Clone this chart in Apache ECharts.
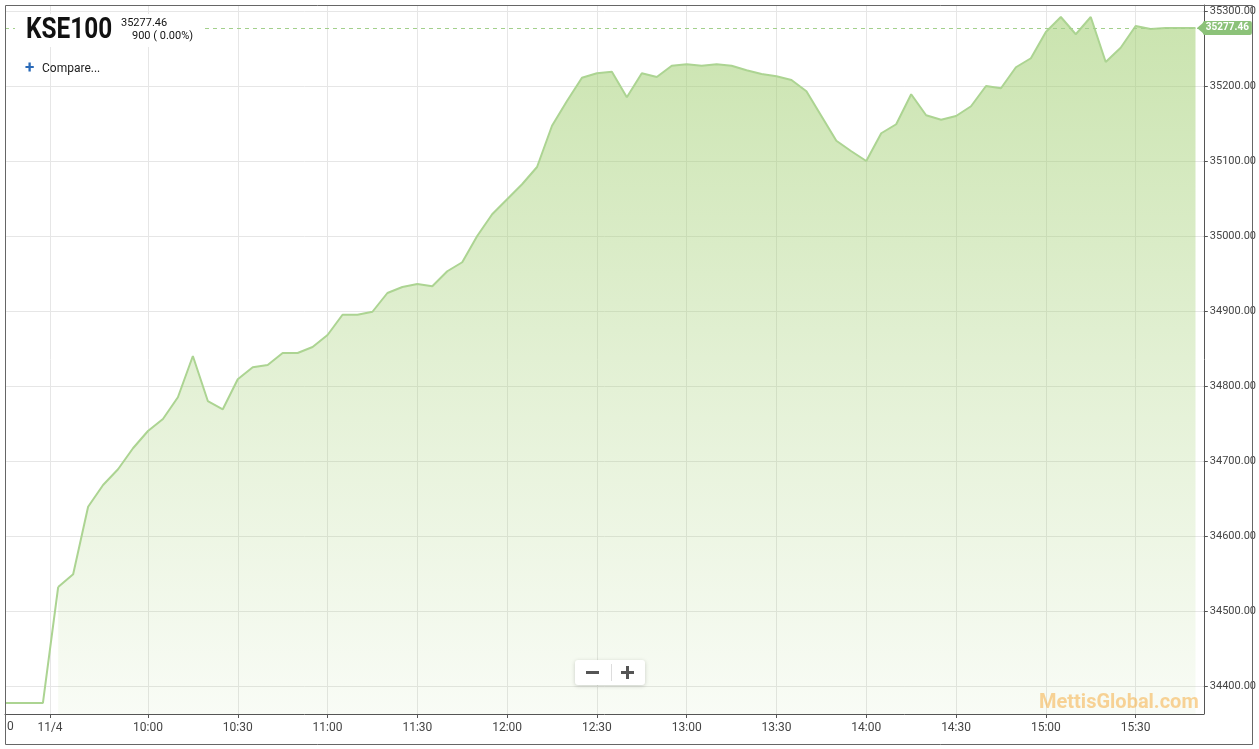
<!DOCTYPE html>
<html>
<head>
<meta charset="utf-8">
<script src="https://cdn.jsdelivr.net/npm/echarts@6/dist/echarts.min.js"></script>
<style>
html,body{margin:0;padding:0;background:#fff;}
#chart{width:1259px;height:749px;}
</style>
</head>
<body>
<div id="chart"></div>
<script>
// ---- data ----
const symbolName = 'KSE100';
const lastValue = 35277.46;
const changeText = '900 ( 0.00%)';
const prevClose = 34377.46;
// previous session points, placed on the compressed (ordinal) time axis, in minutes
const prevPositions = [552.23, 564.9];
const todayTimes = [
 '09:30','09:35','09:40','09:45','09:50','09:55',
 '10:00','10:05','10:10','10:15','10:20','10:25','10:30','10:35','10:40','10:45','10:50','10:55',
 '11:00','11:05','11:10','11:15','11:20','11:25','11:30','11:35','11:40','11:45','11:50','11:55',
 '12:00','12:05','12:10','12:15','12:20','12:25','12:30','12:35','12:40','12:45','12:50','12:55',
 '13:00','13:05','13:10','13:15','13:20','13:25','13:30','13:35','13:40','13:45','13:50','13:55',
 '14:00','14:05','14:10','14:15','14:20','14:25','14:30','14:35','14:40','14:45','14:50','14:55',
 '15:00','15:05','15:10','15:15','15:20','15:25','15:30','15:35','15:40','15:45','15:50'
];
const todayValues = [
 34532,34549,34639,34668,34689,34717,
 34740,34756,34785,34840,34780,34769,34809,34825,34828,34844,34844,34852,
 34868,34895,34895,34899,34924,34932,34936,34933,34953,34965,35000,35029,
 35049,35069,35092,35147,35180,35211,35217,35219,35185,35217,35212,35227,
 35229,35227,35229,35227,35221,35216,35213,35208,35193,35160,35127,35113,
 35100,35137,35149,35189,35161,35155,35160,35173,35200,35197,35225,35237,
 35272,35292,35269,35292,35232,35251,35280,35276,35277.46,35277.46,35277.46
];
const xTickValues = [567.26, 600, 630, 660, 690, 720, 750, 780, 810, 840, 870, 900, 930];
const xTickLabels = ['11/4','10:00','10:30','11:00','11:30','12:00','12:30','13:00','13:30','14:00','14:30','15:00','15:30'];
const yTickValues = [34400, 34500, 34600, 34700, 34800, 34900, 35000, 35100, 35200, 35300];

// ---- helpers ----
function toMin(t){ const p = t.split(':'); return (+p[0]) * 60 + (+p[1]); }
const todayData = todayTimes.map((t, i) => [toMin(t), todayValues[i]]);
const prevData = prevPositions.map(x => [x, prevClose]).concat([todayData[0]]);

const FONT = 'Roboto';
const chart = echarts.init(document.getElementById('chart'), null, {renderer: 'canvas'});

const option = {
  animation: false,
  backgroundColor: '#fff',
  textStyle: {fontFamily: FONT},
  grid: {left: 5, right: 55, top: 5, bottom: 35, containLabel: false},
  xAxis: {
    type: 'value',
    min: 552.23, max: 952.78,
    axisLine: {show: true, lineStyle: {color: '#555', width: 1}},
    axisTick: {show: true, length: 4, customValues: xTickValues, lineStyle: {color: '#555'}},
    axisLabel: {
      customValues: xTickValues, color: '#444', fontSize: 12, margin: 8, fontFamily: FONT,
      formatter: function (v) {
        let best = 0, d = 1e9;
        xTickValues.forEach((x, i) => { if (Math.abs(x - v) < d) { d = Math.abs(x - v); best = i; } });
        return xTickLabels[best];
      }
    },
    splitLine: {show: true, lineStyle: {color: '#e6e6e6', width: 1}}
  },
  yAxis: {
    type: 'value',
    position: 'right',
    min: 34362.67, max: 35308,
    axisLine: {show: true, lineStyle: {color: '#555', width: 1}},
    axisTick: {show: true, length: 4, customValues: yTickValues, lineStyle: {color: '#555'}},
    axisLabel: {
      customValues: yTickValues, color: '#444', fontSize: 11, margin: 6, fontFamily: FONT,
      formatter: v => v.toFixed(2)
    },
    splitLine: {show: true, lineStyle: {color: '#e6e6e6', width: 1}}
  },
  series: [
    {
      type: 'line',
      name: 'prev',
      data: prevData,
      symbol: 'none',
      lineStyle: {color: '#acd492', width: 2},
      z: 3
    },
    {
      type: 'line',
      name: symbolName,
      data: todayData,
      symbol: 'none',
      lineStyle: {color: '#acd492', width: 2},
      areaStyle: {
        origin: 'start',
        color: new echarts.graphic.LinearGradient(0, 0, 0, 1, [
          {offset: 0, color: 'rgba(158,205,108,0.78)'},
          {offset: 0.5, color: 'rgba(158,205,108,0.42)'},
          {offset: 1, color: 'rgba(158,205,108,0.09)'}
        ])
      },
      markLine: {
        silent: true,
        symbol: ['none', 'none'],
        lineStyle: {color: '#a3d08c', type: [4, 4], width: 1},
        label: {
          show: true, position: 'end', distance: -1,
          formatter: () => lastValue.toFixed(2),
          backgroundColor: '#8cc279', color: '#fff', fontWeight: 'bold', fontSize: 10,
          fontFamily: FONT, padding: [2, 3, 2, 3], borderRadius: 2
        },
        data: [{yAxis: lastValue}]
      },
      z: 2
    }
  ]
};
chart.setOption(option);

const yTag = chart.convertToPixel({yAxisIndex: 0}, lastValue);
chart.setOption({
  graphic: [
    // outer frame
    {type: 'rect', shape: {x: 5.5, y: 5.5, width: 1247, height: 739}, style: {fill: 'none', stroke: '#666', lineWidth: 1}, z: 50, silent: true},
    // title box background
    {type: 'rect', shape: {x: 15, y: 14, width: 190, height: 33}, style: {fill: '#fff'}, z: 60, silent: true},
    {type: 'text', x: 26, y: 31, scaleX: 0.84, style: {text: symbolName, font: 'bold 29px Roboto', fill: '#111', verticalAlign: 'middle'}, z: 61},
    {type: 'text', x: 121, y: 23, style: {text: lastValue.toFixed(2), font: '11px Roboto', fill: '#111', verticalAlign: 'middle'}, z: 61},
    {type: 'text', x: 132, y: 36, style: {text: changeText, font: '11px Roboto', fill: '#111', verticalAlign: 'middle'}, z: 61},
    {type: 'text', x: 25, y: 69, style: {text: '+', font: 'bold 17px Roboto', fill: '#2a6ab8', verticalAlign: 'middle'}, z: 61},
    {type: 'text', x: 42, y: 69, style: {text: 'Compare...', font: '12px Roboto', fill: '#222', verticalAlign: 'middle'}, z: 61},
    // left cut label
    {type: 'text', x: 7, y: 727, style: {text: '0', font: '12px Roboto', fill: '#444', verticalAlign: 'middle'}, z: 61},
    // tag arrow
    {type: 'polygon', shape: {points: [[1197, yTag], [1204, yTag - 6], [1204, yTag + 6]]}, style: {fill: '#8cc279'}, z: 70},
    // zoom control
    {type: 'rect', shape: {x: 575, y: 660, width: 70, height: 25, r: 3}, style: {fill: '#fff', shadowBlur: 4, shadowColor: 'rgba(0,0,0,0.18)', shadowOffsetY: 1}, z: 60},
    {type: 'rect', shape: {x: 611, y: 664, width: 1, height: 17}, style: {fill: '#ddd'}, z: 61},
    {type: 'rect', shape: {x: 586, y: 671, width: 13, height: 3}, style: {fill: '#555'}, z: 61},
    {type: 'rect', shape: {x: 621, y: 671, width: 13, height: 3}, style: {fill: '#555'}, z: 61},
    {type: 'rect', shape: {x: 626, y: 666, width: 3, height: 13}, style: {fill: '#555'}, z: 61},
    // watermark
    {type: 'text', x: 1039, y: 703, style: {text: 'MettisGlobal.com', font: 'bold 20px Roboto', fill: 'rgba(245,175,70,0.55)', verticalAlign: 'middle'}, z: 61}
  ]
});
</script>
</body>
</html>
